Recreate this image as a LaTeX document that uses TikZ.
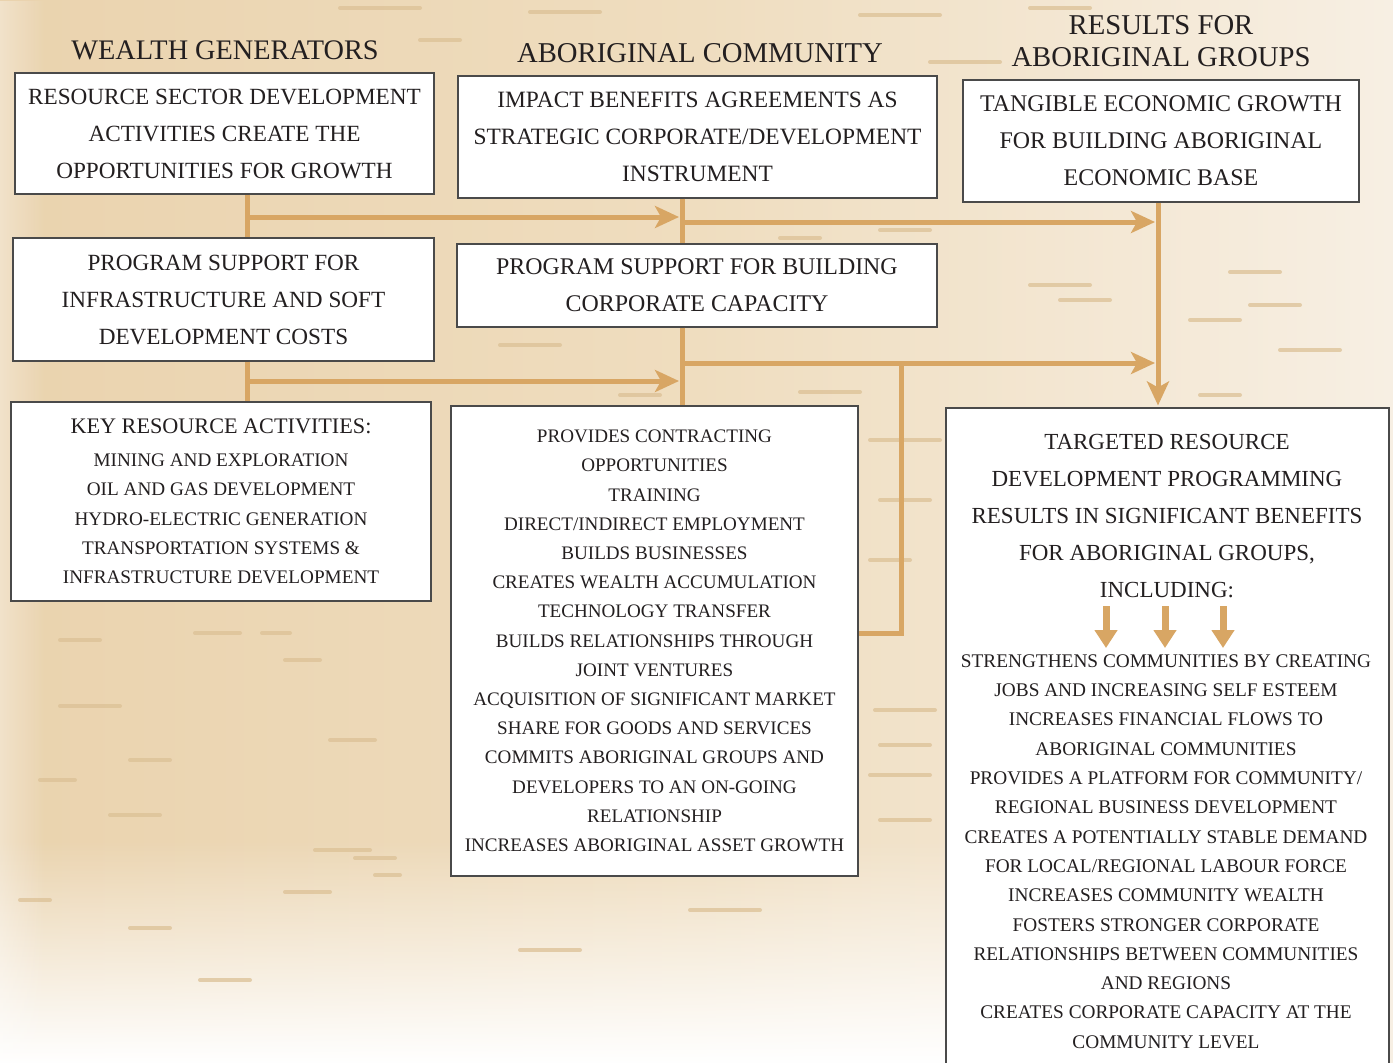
\documentclass[tikz,border=0pt]{standalone}
\usepackage{fontspec}
\setmainfont{Liberation Serif}
\usetikzlibrary{arrows.meta,fadings}
\definecolor{conn}{HTML}{D8A664}
\definecolor{ink}{HTML}{231F20}
\definecolor{boxline}{HTML}{4A4A4A}
\definecolor{bgL}{HTML}{EAD3AE}
\definecolor{bgM}{HTML}{EFDDBF}
\definecolor{bgR}{HTML}{F7EFE3}
\definecolor{streakc}{HTML}{DCC196}
\tikzset{
  box/.style={draw=boxline, line width=1.1pt, fill=white, inner sep=0pt, align=center, text=ink},
  txt/.style={inner sep=0pt, align=center, text=ink},
  link/.style={draw=conn, line width=5pt},
  arr/.style={link, -{Stealth[length=24pt,width=22pt,inset=6pt]}},
  smallarr/.style={draw=conn, line width=7pt, -{Triangle[length=18pt,width=22pt]}},
  streak/.style={draw=streakc, line width=4pt, line cap=round, opacity=0.75}
}
\begin{document}
\begin{tikzpicture}[x=1pt,y=1pt]
\useasboundingbox (0,0) rectangle (1393,-1063);
% background
\shade[left color=bgL, right color=bgR, middle color=bgM] (0,0) rectangle (1393,-1063);
\fill[white, path fading=north] (0,-840) rectangle (1393,-1063);
\fill[white, opacity=0.35, path fading=east] (0,0) rectangle (45,-1063);
\foreach \x/\y/\l in {340/8/80, 530/12/70, 860/15/80, 420/40/40, 930/62/70, 1030/8/60,
  880/230/50, 780/238/40, 500/345/60, 800/392/60, 620/395/40, 1230/272/50, 1030/285/60,
  1060/300/50, 1250/305/50, 1190/320/50, 1280/350/60, 1200/395/40,
  870/440/70, 880/500/50, 870/560/40, 875/710/60, 880/745/50, 870/775/60, 880/820/50,
  195/633/45, 262/633/28, 285/660/35, 60/706/60, 40/780/35, 110/815/50, 315/850/55,
  355/858/40, 375/875/25, 285/892/45, 690/910/70, 130/928/40, 20/900/30, 200/980/50,
  520/950/60, 60/640/40, 330/740/45, 130/760/40}
  {\draw[streak] (\x,-\y) -- ++(\l,0);}
% headers
\node[txt, font=\fontsize{28.3}{32}\selectfont] (h1) at (225,-50) {WEALTH GENERATORS};
\node[txt, font=\fontsize{28.7}{32}\selectfont] (h2) at (700,-53) {ABORIGINAL COMMUNITY};
\node[txt, font=\fontsize{28.7}{32}\selectfont] (h3) at (1161,-41) {RESULTS FOR\\ABORIGINAL GROUPS};
% boxes
\node[box, minimum width=419pt, minimum height=121pt, font=\fontsize{23.2}{37}\selectfont] (a1) at (224.5,-133.5)
  {RESOURCE SECTOR DEVELOPMENT\\ACTIVITIES CREATE THE\\OPPORTUNITIES FOR GROWTH};
\node[box, minimum width=479pt, minimum height=122pt, font=\fontsize{23.4}{37}\selectfont] (b1) at (697.5,-137)
  {IMPACT BENEFITS AGREEMENTS AS\\STRATEGIC CORPORATE/DEVELOPMENT\\INSTRUMENT};
\node[box, minimum width=396pt, minimum height=122pt, font=\fontsize{23.9}{37}\selectfont] (c1) at (1161,-141)
  {TANGIBLE ECONOMIC GROWTH\\FOR BUILDING ABORIGINAL\\ECONOMIC BASE};
\node[box, minimum width=421pt, minimum height=123pt, font=\fontsize{23.2}{37}\selectfont] (a2) at (223.5,-299.5)
  {PROGRAM SUPPORT FOR\\INFRASTRUCTURE AND SOFT\\DEVELOPMENT COSTS};
\node[box, minimum width=480pt, minimum height=83pt, font=\fontsize{23.9}{37}\selectfont] (b2) at (697,-285.5)
  {PROGRAM SUPPORT FOR BUILDING\\CORPORATE CAPACITY};
\node[box, minimum width=420pt, minimum height=199pt, font=\fontsize{19.2}{29.3}\selectfont] (a3) at (221,-501.5)
  {{\fontsize{22.2}{33}\selectfont KEY RESOURCE ACTIVITIES:}\\[3.5pt]MINING AND EXPLORATION\\OIL AND GAS DEVELOPMENT\\HYDRO-ELECTRIC GENERATION\\TRANSPORTATION SYSTEMS \&\\INFRASTRUCTURE DEVELOPMENT};
\node[box, minimum width=407pt, minimum height=470pt, font=\fontsize{19.1}{29.2}\selectfont] (b3) at (654.5,-641)
  {PROVIDES CONTRACTING\\OPPORTUNITIES\\TRAINING\\DIRECT/INDIRECT EMPLOYMENT\\BUILDS BUSINESSES\\CREATES WEALTH ACCUMULATION\\TECHNOLOGY TRANSFER\\BUILDS RELATIONSHIPS THROUGH\\JOINT VENTURES\\ACQUISITION OF SIGNIFICANT MARKET\\SHARE FOR GOODS AND SERVICES\\COMMITS ABORIGINAL GROUPS AND\\DEVELOPERS TO AN ON-GOING\\RELATIONSHIP\\INCREASES ABORIGINAL ASSET GROWTH};
\node[box, minimum width=443pt, minimum height=667pt] (c3) at (1167.5,-741.5) {};
\node[txt, font=\fontsize{23}{37}\selectfont] (c3t) at (1167,-516.5)
  {TARGETED RESOURCE\\DEVELOPMENT PROGRAMMING\\RESULTS IN SIGNIFICANT BENEFITS\\FOR ABORIGINAL GROUPS,\\INCLUDING:};
\node[txt, font=\fontsize{19.3}{29.3}\selectfont] (c3l) at (1166,-851.5)
  {STRENGTHENS COMMUNITIES BY CREATING\\JOBS AND INCREASING SELF ESTEEM\\INCREASES FINANCIAL FLOWS TO\\ABORIGINAL COMMUNITIES\\PROVIDES A PLATFORM FOR COMMUNITY/\\REGIONAL BUSINESS DEVELOPMENT\\CREATES A POTENTIALLY STABLE DEMAND\\FOR LOCAL/REGIONAL LABOUR FORCE\\INCREASES COMMUNITY WEALTH\\FOSTERS STRONGER CORPORATE\\RELATIONSHIPS BETWEEN COMMUNITIES\\AND REGIONS\\CREATES CORPORATE CAPACITY AT THE\\COMMUNITY LEVEL};
% junction coordinates
\coordinate (xa) at (247,0);
\coordinate (xb) at (682,0);
\coordinate (xc) at (1158,0);
\coordinate (ja1) at (247,-217);
\coordinate (jb1) at (682,-217);
\coordinate (jb2) at (682,-222);
\coordinate (jc2) at (1158,-222);
\coordinate (ja3) at (247,-381);
\coordinate (jb3) at (682,-381);
\coordinate (jb4) at (682,-363);
\coordinate (jc4) at (1158,-363);
\coordinate (jd1) at (901,-363);
\coordinate (jd2) at (901,-633);
% connectors
\draw[link] (a1.south -| xa) -- (a2.north -| xa);
\draw[link] (a2.south -| xa) -- (a3.north -| xa);
\draw[link] (b1.south -| xb) -- (b2.north -| xb);
\draw[link] (b2.south -| xb) -- (b3.north -| xb);
\draw[arr] (ja1) -- ([xshift=-3pt]jb1);
\draw[arr] (jb2) -- ([xshift=-3pt]jc2);
\draw[arr] (ja3) -- ([xshift=-3pt]jb3);
\draw[arr] (jb4) -- ([xshift=-3pt]jc4);
\draw[arr] (c1.south -| xc) -- ([yshift=2pt]c3.north -| xc);
\draw[link] (jd1) -- (jd2) -- (b3.east |- jd2);
% small arrows
\coordinate (s1) at (1106,-606); \coordinate (t1) at (1106,-648);
\coordinate (s2) at (1165,-606); \coordinate (t2) at (1165,-648);
\coordinate (s3) at (1223,-606); \coordinate (t3) at (1223,-648);
\draw[smallarr] (s1) -- (t1);
\draw[smallarr] (s2) -- (t2);
\draw[smallarr] (s3) -- (t3);
\end{tikzpicture}
\end{document}
